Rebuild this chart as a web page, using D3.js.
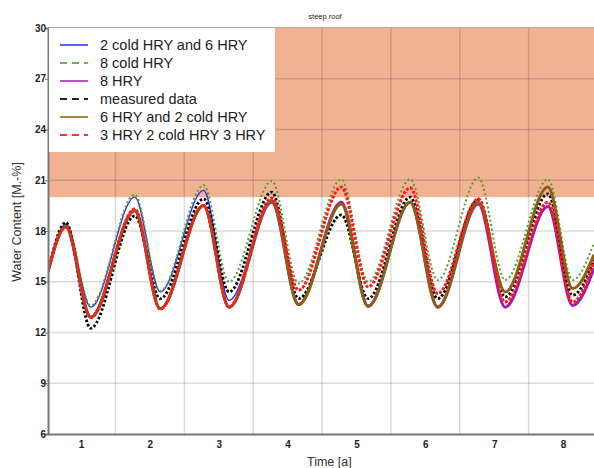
<!DOCTYPE html>
<html>
<head>
<meta charset="utf-8">
<script src="https://cdn.jsdelivr.net/npm/d3@7"></script>
<style>
    body { margin: 0; background: #fff; }
    svg { display: block; font-family: "Liberation Sans", Arial, sans-serif; }
</style>
</head>
<body>
<div class="chart"></div>
<script>
// time of each turning point [a] (start, peak, trough, ..., end)
var times = [0.52, 0.78, 1.14, 1.78, 2.15, 2.78, 3.15, 3.77, 4.16, 4.78, 5.17, 5.78, 6.18, 6.77, 7.16, 7.78, 8.14, 8.45];

var blueValues   = [15.6, 18.4, 13.5, 20.0, 14.4, 20.4, 13.9, 19.7, 13.65, 19.7, 13.6, 19.7, 13.55, 19.6, 13.5, 19.45, 13.6, 15.8];
var greenValues  = [15.6, 18.4, 13.6, 20.15, 14.45, 20.7, 15.0, 20.95, 14.9, 21.05, 15.0, 21.05, 15.1, 21.15, 15.1, 21.05, 15.1, 17.3];
var purpleValues = [15.6, 18.25, 12.9, 19.2, 13.4, 19.5, 13.5, 19.7, 13.65, 19.7, 13.55, 19.7, 13.5, 19.6, 13.5, 19.45, 13.6, 15.8];
var blackValues  = [15.6, 18.5, 12.25, 18.9, 14.0, 19.9, 14.4, 20.3, 14.0, 18.95, 14.0, 20.0, 14.0, 19.85, 14.1, 20.2, 14.2, 16.3];
var brownValues  = [15.6, 18.25, 12.9, 19.2, 13.4, 19.5, 13.5, 19.8, 13.65, 19.6, 13.55, 19.7, 13.5, 19.7, 14.4, 20.6, 14.6, 16.6];
var redValues    = [15.6, 18.25, 12.9, 19.3, 13.4, 19.5, 13.5, 19.95, 14.5, 20.6, 14.7, 20.55, 14.3, 19.9, 13.8, 19.7, 13.8, 16.2];

var seriesNames = ["2 cold HRY and 6 HRY", "8 cold HRY", "8 HRY", "measured data", "6 HRY and 2 cold HRY", "3 HRY 2 cold HRY 3 HRY"];
var seriesValues = [blueValues, greenValues, purpleValues, blackValues, brownValues, redValues];

var xTicks = [1, 2, 3, 4, 5, 6, 7, 8];
var xGrid = [1.5, 2.5, 3.5, 4.5, 5.5, 6.5, 7.5];
var yTicks = [6, 9, 12, 15, 18, 21, 24, 27, 30];
var bandRange = [20, 30];

var styles = [
    { color: "#2a2aff", legendColor: "#4a4aff", width: 1.4, dash: null, legendDash: null },
    { color: "#55a02a", legendColor: "#6ab04c", width: 2, dash: "2,2.5", legendDash: "7,5" },
    { color: "#a01cb0", legendColor: "#b040c0", width: 3, dash: null, legendDash: null },
    { color: "#000000", legendColor: "#222222", width: 2.8, dash: "2.5,2", legendDash: "7,5" },
    { color: "#8e5e14", legendColor: "#a07a2a", width: 3, dash: null, legendDash: null },
    { color: "#ff1a1a", legendColor: "#ff3030", width: 3, dash: "3,1.5", legendDash: "7,5" }
];

var width = 594, height = 468;
var plotLeft = 48, plotRight = 594, plotTop = 28, plotBottom = 434;

var svg = d3.select(".chart")
    .append("svg")
    .attr("width", width)
    .attr("height", height);

var x = d3.scaleLinear().domain([0.52, 8.45]).range([plotLeft, plotRight]);
var y = d3.scaleLinear().domain([6, 30]).range([plotBottom, plotTop]);

svg.append("defs").append("clipPath")
    .attr("id", "plotclip")
    .append("rect")
    .attr("x", plotLeft).attr("y", plotTop)
    .attr("width", plotRight - plotLeft).attr("height", plotBottom - plotTop);

// critical band
svg.append("rect")
    .attr("x", plotLeft)
    .attr("y", y(bandRange[1]))
    .attr("width", plotRight - plotLeft)
    .attr("height", y(bandRange[0]) - y(bandRange[1]))
    .attr("fill", "#f1b294");

// grid
var grid = svg.append("g")
    .attr("stroke", "#000")
    .attr("stroke-opacity", 0.14)
    .attr("stroke-width", 1.5);

grid.selectAll("line.h").data(yTicks.slice(1, -1)).enter().append("line")
    .attr("class", "h")
    .attr("x1", plotLeft).attr("x2", plotRight)
    .attr("y1", function(d) { return y(d); })
    .attr("y2", function(d) { return y(d); });

grid.selectAll("line.v").data(xGrid).enter().append("line")
    .attr("class", "v")
    .attr("y1", plotTop).attr("y2", plotBottom)
    .attr("x1", function(d) { return x(d); })
    .attr("x2", function(d) { return x(d); });

// top border
svg.append("line")
    .attr("x1", plotLeft).attr("x2", plotRight)
    .attr("y1", plotTop - 0.5).attr("y2", plotTop - 0.5)
    .attr("stroke", "#aaa")
    .attr("stroke-width", 1.2);

// series
var line = d3.line()
    .x(function(d, i) { return x(times[i]); })
    .y(function(d) { return y(d); })
    .curve(d3.curveMonotoneX);

var lines = svg.append("g").attr("clip-path", "url(#plotclip)");

for (var i = 0; i < seriesValues.length; ++i) {
    lines.append("path")
        .attr("d", line(seriesValues[i]))
        .attr("fill", "none")
        .attr("stroke", styles[i].color)
        .attr("stroke-width", styles[i].width)
        .attr("stroke-dasharray", styles[i].dash);
}

// axes
var yAxis = svg.append("g")
    .attr("transform", "translate(" + plotLeft + ",0)")
    .call(d3.axisLeft(y).tickValues(yTicks).tickSize(3).tickFormat(d3.format("d")));

var xAxis = svg.append("g")
    .attr("transform", "translate(0," + plotBottom + ")")
    .call(d3.axisBottom(x).tickValues(xTicks).tickSize(0).tickPadding(7).tickFormat(d3.format("d")));

[xAxis, yAxis].forEach(function(ax) {
    ax.select(".domain").attr("stroke", "#777").attr("stroke-width", 2);
    ax.selectAll(".tick line").attr("stroke", "#777");
    ax.selectAll(".tick text")
        .attr("font-family", "Liberation Sans, Arial, sans-serif")
        .attr("font-size", 10)
        .attr("font-weight", "bold")
        .attr("fill", "#222");
});
yAxis.selectAll(".tick text").attr("x", -2);

// titles
svg.append("text")
    .attr("x", 325)
    .attr("y", 19)
    .attr("text-anchor", "middle")
    .attr("font-size", 7.5)
    .attr("fill", "#222")
    .text("steep roof");

svg.append("text")
    .attr("x", 307)
    .attr("y", 466)
    .attr("font-size", 12.5)
    .attr("fill", "#333")
    .text("Time [a]");

svg.append("text")
    .attr("transform", "translate(21,222) rotate(-90)")
    .attr("text-anchor", "middle")
    .attr("font-size", 12.5)
    .attr("fill", "#333")
    .text("Water Content [M.-%]");

// legend
var legend = svg.append("g");

legend.append("rect")
    .attr("x", plotLeft + 1)
    .attr("y", plotTop)
    .attr("width", 226)
    .attr("height", 124)
    .attr("fill", "#fff");

var rows = legend.selectAll("g.row").data(seriesNames).enter().append("g")
    .attr("class", "row")
    .attr("transform", function(d, i) { return "translate(0," + (45 + i * 18) + ")"; });

rows.append("line")
    .attr("x1", 60).attr("x2", 88)
    .attr("y1", 0).attr("y2", 0)
    .attr("stroke", function(d, i) { return styles[i].legendColor; })
    .attr("stroke-width", 1.8)
    .attr("stroke-dasharray", function(d, i) { return styles[i].legendDash; });

rows.append("text")
    .attr("x", 100)
    .attr("y", 5)
    .attr("font-size", 14.5)
    .attr("fill", "#222")
    .text(function(d) { return d; });
</script>
</body>
</html>
